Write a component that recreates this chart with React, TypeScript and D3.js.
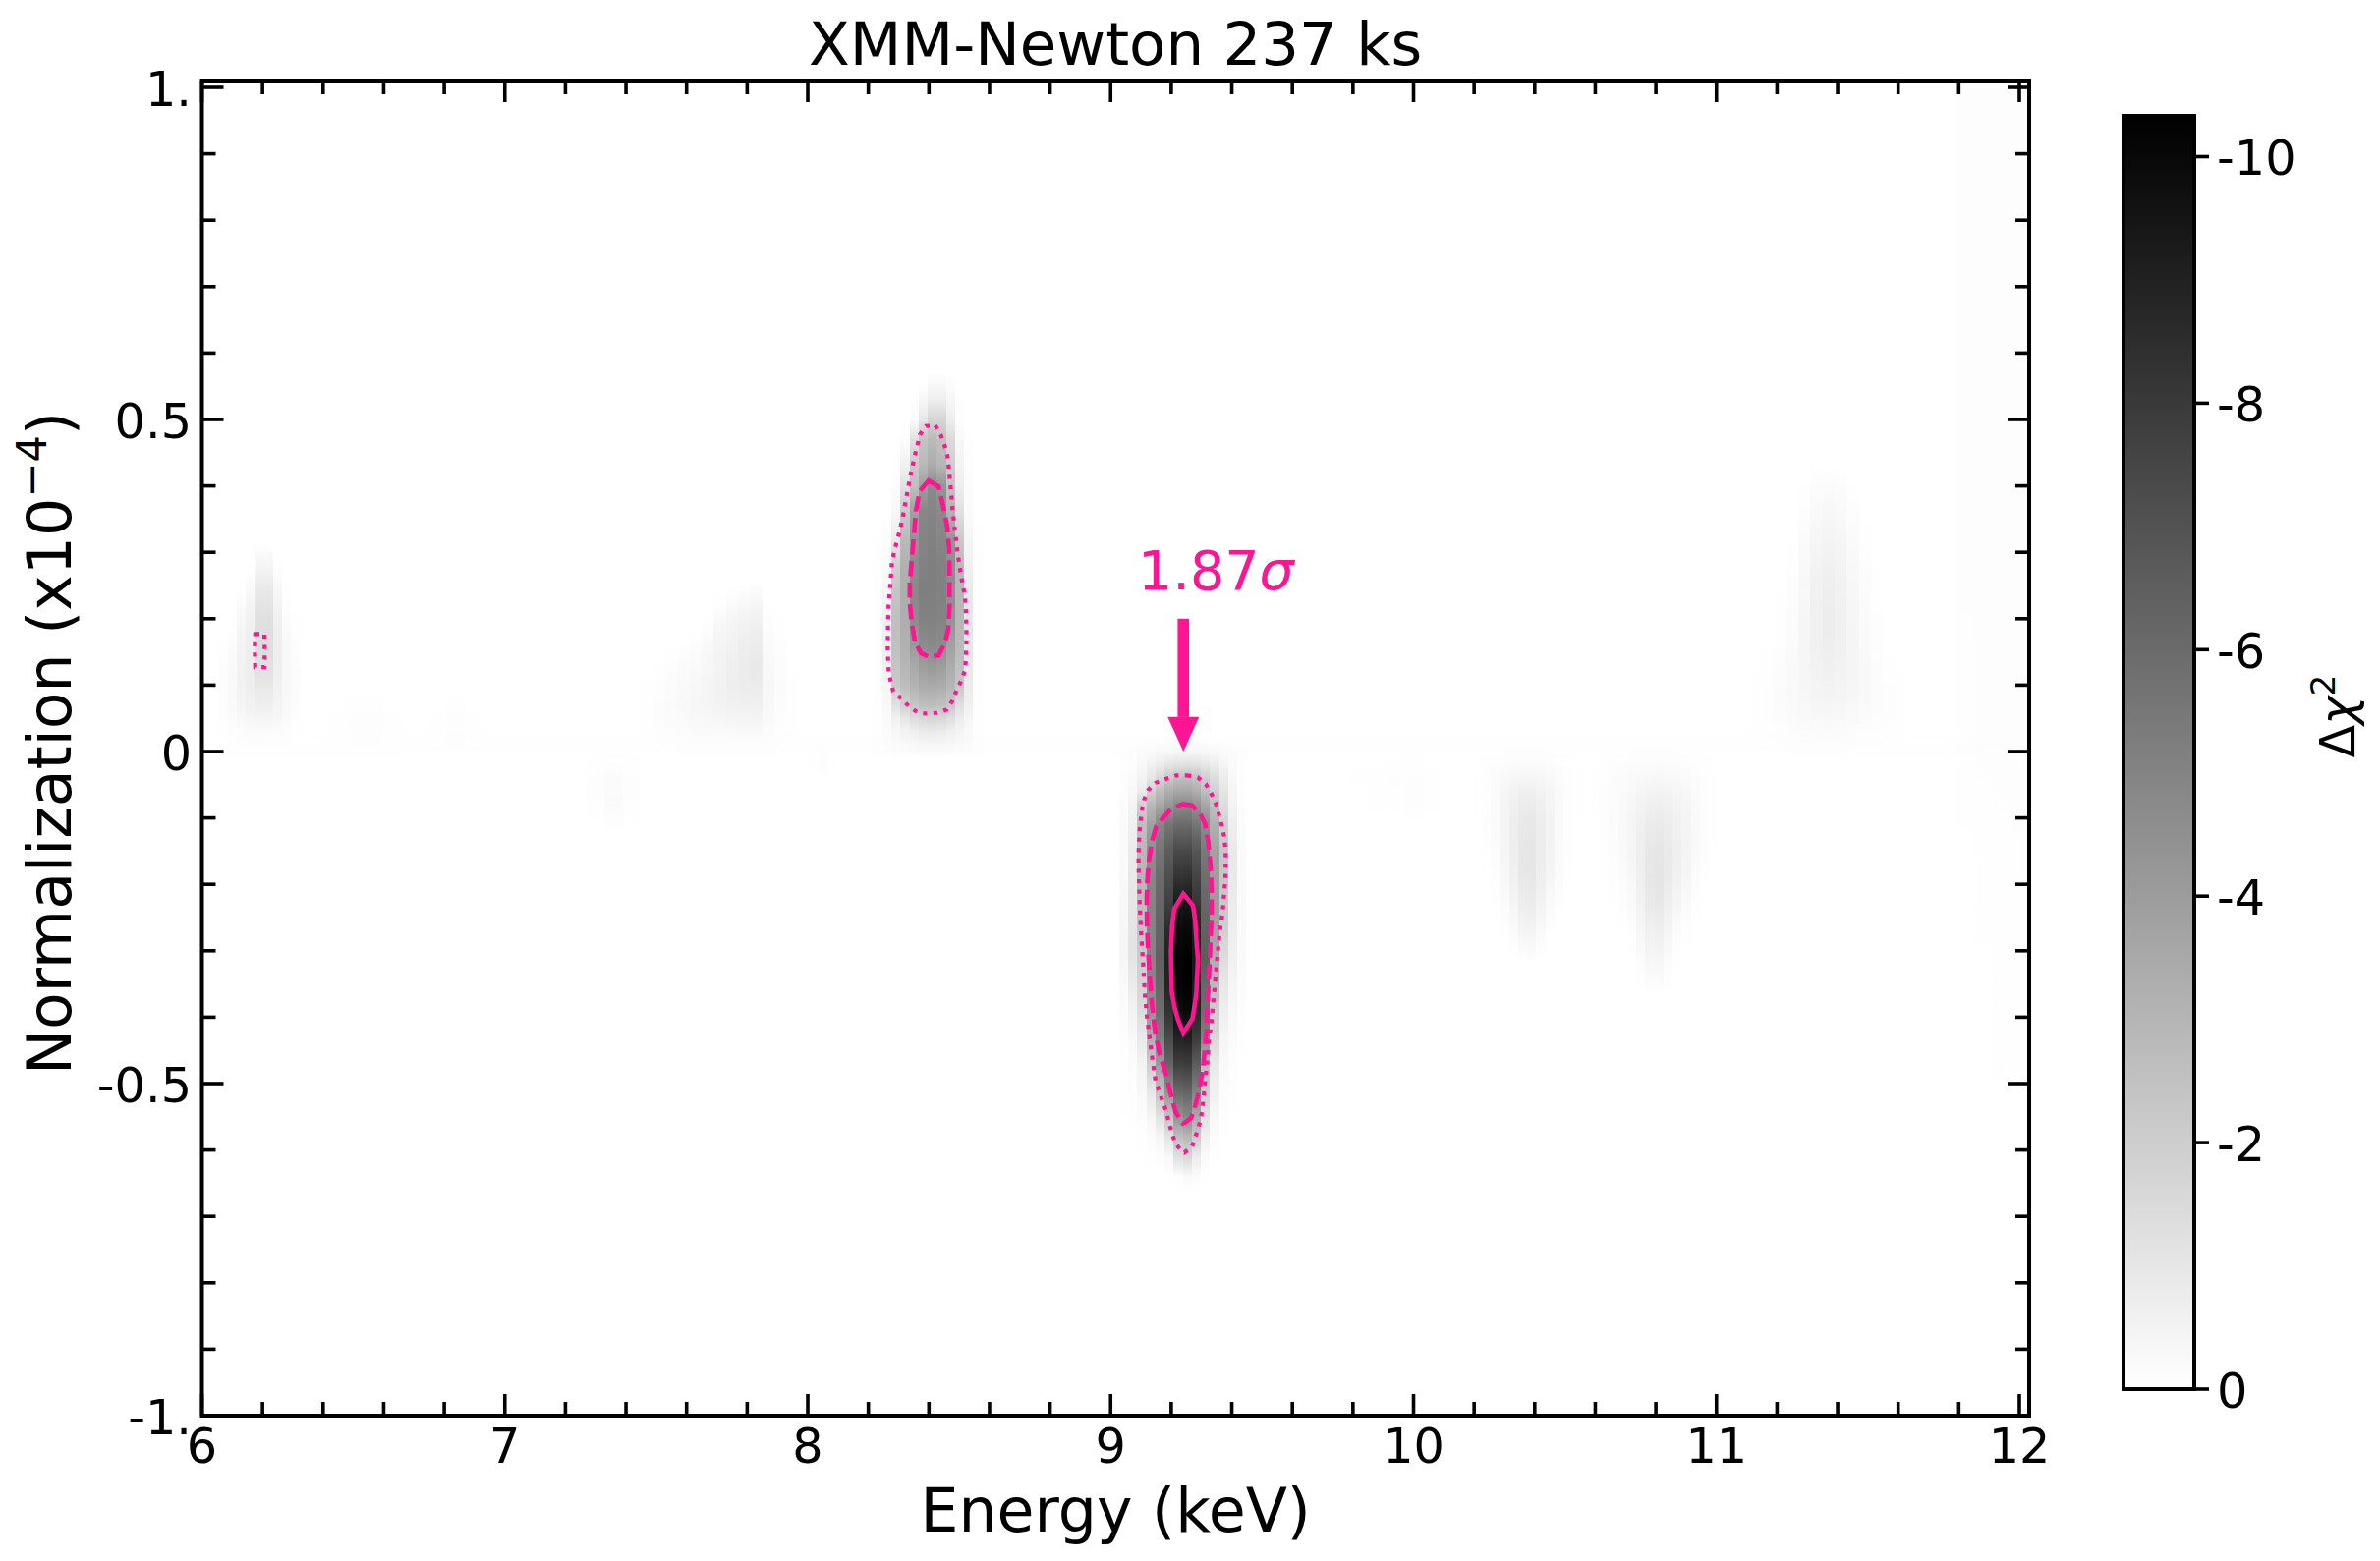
import { useEffect, useRef } from 'react'
import * as d3 from 'd3'

const xMajor = [6, 7, 8, 9, 10, 11, 12]
const yMajor = [-1, -0.5, 0, 0.5, 1]
const yTickLabels = ['-1.', '-0.5', '0', '0.5', '1.']
const cbarTicks = [0, -2, -4, -6, -8, -10]

// Delta chi^2, grid[row][column]
const mainE = [9.043, 9.073, 9.103, 9.133, 9.163, 9.193, 9.223, 9.253, 9.283, 9.313, 9.343, 9.373, 9.403, 9.433]
const mainN = [0.02, 0, -0.02, -0.04, -0.06, -0.08, -0.11, -0.15, -0.19, -0.23, -0.27, -0.31, -0.35, -0.39, -0.43, -0.47, -0.51, -0.55, -0.58, -0.61, -0.64, -0.67]
const mainGrid = [
  [0, 0, 0, 0, 0, -0.05, -0.05, -0.05, -0.05, 0, 0, 0, 0, 0],
  [-0.02, -0.05, -0.1, -0.15, -0.2, -0.25, -0.3, -0.3, -0.3, -0.25, -0.2, -0.12, -0.08, -0.03],
  [-0.05, -0.1, -0.3, -0.55, -0.8, -1.05, -1.2, -1.25, -1.2, -1.0, -0.75, -0.45, -0.2, -0.05],
  [-0.08, -0.2, -0.5, -1.0, -1.6, -2.2, -2.6, -2.65, -2.45, -2.0, -1.4, -0.8, -0.3, -0.08],
  [-0.1, -0.3, -0.8, -1.9, -2.7, -3.3, -3.6, -3.6, -3.3, -2.65, -1.95, -1.1, -0.4, -0.1],
  [-0.15, -0.45, -1.9, -2.9, -3.5, -4.2, -4.7, -4.75, -4.4, -3.6, -2.6, -1.4, -0.5, -0.1],
  [-0.2, -0.6, -2.6, -3.8, -4.9, -5.6, -6.0, -6.0, -5.6, -4.7, -3.2, -1.9, -0.7, -0.15],
  [-0.2, -0.8, -2.9, -4.6, -5.6, -6.6, -7.4, -7.4, -6.9, -5.4, -3.8, -2.3, -0.9, -0.2],
  [-0.25, -0.9, -3.0, -4.9, -6.0, -7.2, -8.3, -8.4, -7.6, -5.9, -4.0, -2.3, -0.9, -0.2],
  [-0.3, -1.0, -2.6, -5.0, -6.2, -7.8, -9.4, -9.5, -8.2, -6.2, -4.0, -2.2, -0.8, -0.2],
  [-0.35, -1.1, -2.4, -5.0, -6.3, -8.6, -9.9, -10.0, -9.2, -6.4, -3.8, -1.9, -0.7, -0.2],
  [-0.35, -1.1, -2.1, -5.0, -6.4, -9.0, -10.2, -10.3, -9.4, -6.6, -3.3, -1.4, -0.6, -0.2],
  [-0.25, -0.8, -1.7, -4.9, -6.2, -8.9, -10.2, -10.3, -9.3, -6.2, -2.8, -1.0, -0.4, -0.15],
  [-0.15, -0.5, -1.4, -4.4, -5.9, -8.3, -9.8, -10.0, -8.8, -5.9, -2.0, -0.7, -0.3, -0.1],
  [-0.1, -0.3, -0.9, -3.3, -5.3, -7.4, -9.0, -9.1, -8.0, -5.1, -1.6, -0.4, -0.2, -0.05],
  [-0.05, -0.15, -0.5, -2.0, -4.0, -6.3, -7.8, -7.9, -6.6, -2.7, -0.9, -0.25, -0.1, -0.02],
  [-0.03, -0.1, -0.3, -1.0, -2.6, -4.5, -6.2, -6.4, -5.2, -2.1, -0.6, -0.15, -0.05, 0],
  [-0.02, -0.05, -0.12, -0.4, -1.2, -2.4, -4.4, -4.8, -3.4, -1.2, -0.3, -0.08, -0.02, 0],
  [0, -0.02, -0.05, -0.15, -0.4, -1.1, -2.6, -2.9, -2.1, -0.6, -0.15, -0.03, 0, 0],
  [0, 0, -0.02, -0.05, -0.1, -0.3, -1.3, -1.6, -0.8, -0.2, -0.05, 0, 0, 0],
  [0, 0, 0, 0, -0.02, -0.05, -0.1, -0.25, -0.15, -0.05, 0, 0, 0, 0],
  [0, 0, 0, 0, 0, 0, 0, 0, 0, 0, 0, 0, 0, 0],
]

const upperE = [8.231, 8.261, 8.291, 8.321, 8.351, 8.381, 8.411, 8.441, 8.471, 8.501, 8.531, 8.561]
const upperN = [0.57, 0.55, 0.53, 0.5, 0.47, 0.43, 0.4, 0.36, 0.32, 0.28, 0.24, 0.2, 0.16, 0.13, 0.1, 0.07, 0.05, 0.03, 0.01, -0.01]
const upperGrid = [
  [0, 0, 0, 0, 0, 0, -0.05, -0.05, -0.02, 0, 0, 0],
  [0, 0, 0, 0, 0, -0.05, -0.3, -0.3, -0.15, 0, 0, 0],
  [0, 0, 0, 0, -0.05, -0.3, -0.7, -0.7, -0.35, -0.05, 0, 0],
  [0, 0, 0, -0.02, -0.15, -1.0, -1.7, -1.7, -0.7, -0.1, 0, 0],
  [0, 0, 0, -0.1, -1.2, -2.4, -2.8, -2.5, -1.5, -0.3, -0.05, 0],
  [0, 0, -0.05, -0.6, -2.2, -2.9, -3.4, -3.0, -2.0, -0.5, -0.1, 0],
  [0, 0, -0.1, -1.2, -2.6, -3.9, -4.7, -4.3, -2.4, -0.7, -0.15, 0],
  [0, -0.02, -0.3, -2.2, -3.9, -4.9, -5.0, -4.8, -3.1, -1.3, -0.2, -0.02],
  [-0.02, -0.1, -0.8, -2.8, -4.4, -5.0, -5.1, -4.9, -4.3, -2.2, -0.4, -0.05],
  [-0.05, -0.2, -1.9, -3.2, -4.7, -5.1, -5.2, -5.1, -4.6, -2.8, -0.6, -0.08],
  [-0.08, -0.4, -2.4, -3.3, -4.8, -5.2, -5.2, -5.1, -4.6, -2.9, -0.9, -0.1],
  [-0.1, -0.6, -2.6, -3.3, -4.7, -5.1, -5.1, -5.0, -4.4, -2.9, -1.0, -0.1],
  [-0.1, -0.7, -2.6, -3.2, -4.1, -4.7, -4.8, -4.7, -3.8, -2.8, -1.0, -0.1],
  [-0.1, -0.6, -2.4, -3.0, -3.5, -4.0, -4.2, -4.0, -3.4, -2.6, -0.9, -0.1],
  [-0.08, -0.4, -2.2, -2.7, -3.1, -3.4, -3.5, -3.4, -3.0, -2.3, -0.8, -0.1],
  [-0.06, -0.3, -1.2, -1.9, -2.4, -2.6, -2.7, -2.6, -2.3, -1.3, -0.6, -0.08],
  [-0.05, -0.2, -0.6, -1.0, -1.4, -1.6, -1.7, -1.6, -1.3, -0.8, -0.4, -0.05],
  [-0.04, -0.15, -0.3, -0.5, -0.65, -0.8, -0.85, -0.8, -0.65, -0.45, -0.25, -0.04],
  [-0.03, -0.08, -0.15, -0.2, -0.25, -0.3, -0.3, -0.3, -0.25, -0.2, -0.1, -0.03],
  [0, 0, 0, 0, 0, 0, 0, 0, 0, 0, 0, 0],
]

const leftE = [6.07, 6.1, 6.13, 6.16, 6.19, 6.22, 6.25, 6.28, 6.31]
const leftN = [0.31, 0.29, 0.27, 0.24, 0.21, 0.18, 0.15, 0.12, 0.09, 0.06, 0.04, 0.02, 0]
const leftGrid = [
  [0, 0, 0, 0, -0.05, -0.05, 0, 0, 0],
  [0, 0, 0, 0, -0.3, -0.3, -0.05, 0, 0],
  [0, 0, 0, -0.05, -0.55, -0.55, -0.1, 0, 0],
  [0, 0, -0.05, -0.3, -0.95, -0.95, -0.35, -0.05, 0],
  [0, -0.02, -0.25, -0.5, -1.2, -1.2, -0.55, -0.1, -0.02],
  [0, -0.05, -0.4, -0.65, -1.35, -1.35, -0.7, -0.2, -0.05],
  [-0.05, -0.2, -0.5, -0.7, -1.35, -1.35, -0.7, -0.3, -0.1],
  [-0.1, -0.25, -0.55, -0.7, -1.15, -1.15, -0.65, -0.3, -0.15],
  [-0.1, -0.25, -0.5, -0.65, -0.85, -0.85, -0.55, -0.3, -0.15],
  [-0.1, -0.2, -0.4, -0.5, -0.55, -0.55, -0.4, -0.25, -0.1],
  [-0.05, -0.12, -0.2, -0.25, -0.3, -0.3, -0.25, -0.15, -0.05],
  [-0.02, -0.05, -0.08, -0.1, -0.1, -0.1, -0.08, -0.05, -0.02],
  [0, 0, 0, 0, 0, 0, 0, 0, 0],
]

const wedgeE = [7.47, 7.51, 7.55, 7.59, 7.63, 7.67, 7.71, 7.75, 7.79, 7.83, 7.87, 7.91, 7.95]
const wedgeN = [0.25, 0.22, 0.19, 0.16, 0.13, 0.1, 0.07, 0.04, 0.02, 0]
const wedgeGrid = [
  [0, 0, 0, 0, 0, 0, 0, 0, -0.05, -0.1, 0, 0, 0],
  [0, 0, 0, 0, 0, 0, -0.05, -0.2, -0.3, -0.4, -0.03, 0, 0],
  [0, 0, 0, 0, 0, -0.05, -0.35, -0.45, -0.55, -0.65, -0.1, -0.03, 0],
  [0, 0, 0, -0.03, -0.1, -0.25, -0.45, -0.55, -0.7, -0.8, -0.2, -0.08, 0],
  [0, -0.03, -0.08, -0.15, -0.22, -0.35, -0.5, -0.65, -0.8, -0.9, -0.28, -0.12, -0.02],
  [-0.03, -0.08, -0.15, -0.25, -0.32, -0.42, -0.55, -0.7, -0.75, -0.8, -0.32, -0.15, -0.05],
  [-0.06, -0.12, -0.2, -0.28, -0.35, -0.42, -0.5, -0.6, -0.62, -0.65, -0.28, -0.12, -0.05],
  [-0.06, -0.1, -0.15, -0.2, -0.25, -0.28, -0.3, -0.33, -0.35, -0.35, -0.2, -0.08, -0.05],
  [-0.02, -0.04, -0.06, -0.08, -0.09, -0.1, -0.1, -0.11, -0.12, -0.12, -0.08, -0.04, -0.02],
  [0, 0, 0, 0, 0, 0, 0, 0, 0, 0, 0, 0, 0],
]

const rightE = [11.13, 11.17, 11.21, 11.25, 11.29, 11.33, 11.37, 11.41, 11.45, 11.49, 11.53, 11.57, 11.61]
const rightN = [0.43, 0.4, 0.36, 0.32, 0.28, 0.24, 0.2, 0.16, 0.12, 0.08, 0.05, 0.02, 0]
const rightGrid = [
  [0, 0, 0, 0, 0, -0.02, -0.03, -0.02, 0, 0, 0, 0, 0],
  [0, 0, 0, 0, -0.02, -0.12, -0.15, -0.12, -0.02, 0, 0, 0, 0],
  [0, 0, 0, 0, -0.08, -0.25, -0.32, -0.25, -0.1, -0.02, 0, 0, 0],
  [0, 0, 0, -0.02, -0.18, -0.38, -0.45, -0.38, -0.2, -0.05, 0, 0, 0],
  [0, 0, 0, -0.05, -0.25, -0.5, -0.6, -0.5, -0.28, -0.1, -0.02, 0, 0],
  [0, 0, -0.02, -0.1, -0.3, -0.58, -0.7, -0.58, -0.33, -0.14, -0.04, 0, 0],
  [0, 0, -0.03, -0.14, -0.35, -0.62, -0.75, -0.62, -0.38, -0.18, -0.07, 0, 0],
  [0, -0.02, -0.07, -0.18, -0.38, -0.6, -0.7, -0.6, -0.4, -0.22, -0.1, -0.02, 0],
  [-0.02, -0.06, -0.12, -0.24, -0.38, -0.52, -0.6, -0.52, -0.4, -0.25, -0.12, -0.05, -0.02],
  [-0.05, -0.1, -0.16, -0.26, -0.34, -0.42, -0.45, -0.42, -0.34, -0.25, -0.14, -0.08, -0.04],
  [-0.05, -0.08, -0.12, -0.18, -0.23, -0.28, -0.3, -0.28, -0.22, -0.17, -0.1, -0.07, -0.05],
  [-0.02, -0.03, -0.05, -0.07, -0.09, -0.1, -0.1, -0.1, -0.09, -0.07, -0.05, -0.03, -0.02],
  [0, 0, 0, 0, 0, 0, 0, 0, 0, 0, 0, 0, 0],
]

const dipAE = [10.21, 10.24, 10.27, 10.3, 10.33, 10.36, 10.39, 10.42, 10.45, 10.48, 10.51, 10.54]
const dipAN = [0, -0.03, -0.06, -0.1, -0.14, -0.18, -0.22, -0.26, -0.29, -0.32]
const dipAGrid = [
  [0, 0, 0, 0, 0, 0, 0, 0, 0, 0, 0, 0],
  [-0.03, -0.08, -0.14, -0.2, -0.25, -0.28, -0.28, -0.25, -0.2, -0.14, -0.08, -0.03],
  [-0.03, -0.1, -0.2, -0.38, -0.52, -0.65, -0.65, -0.52, -0.38, -0.2, -0.1, -0.03],
  [-0.02, -0.08, -0.18, -0.42, -0.68, -0.88, -0.92, -0.72, -0.48, -0.22, -0.1, -0.02],
  [0, -0.05, -0.15, -0.38, -0.68, -0.98, -1.02, -0.76, -0.48, -0.22, -0.07, 0],
  [0, -0.02, -0.1, -0.32, -0.62, -0.98, -1.02, -0.72, -0.42, -0.18, -0.05, 0],
  [0, 0, -0.05, -0.2, -0.48, -0.8, -0.85, -0.56, -0.26, -0.08, 0, 0],
  [0, 0, 0, -0.08, -0.26, -0.5, -0.55, -0.3, -0.1, 0, 0, 0],
  [0, 0, 0, 0, -0.08, -0.25, -0.3, -0.12, 0, 0, 0, 0],
  [0, 0, 0, 0, 0, 0, 0, 0, 0, 0, 0, 0],
]

const dipBE = [10.6, 10.63, 10.66, 10.69, 10.72, 10.75, 10.78, 10.81, 10.84, 10.87, 10.9, 10.93, 10.96, 10.99]
const dipBN = [0, -0.03, -0.07, -0.11, -0.15, -0.19, -0.23, -0.27, -0.31, -0.34, -0.37]
const dipBGrid = [
  [0, 0, 0, 0, 0, 0, 0, 0, 0, 0, 0, 0, 0, 0],
  [-0.03, -0.06, -0.1, -0.14, -0.18, -0.2, -0.22, -0.24, -0.22, -0.2, -0.15, -0.1, -0.06, -0.03],
  [-0.03, -0.08, -0.14, -0.22, -0.32, -0.45, -0.55, -0.6, -0.55, -0.45, -0.35, -0.2, -0.1, -0.03],
  [-0.02, -0.08, -0.15, -0.25, -0.42, -0.62, -0.8, -0.85, -0.75, -0.6, -0.45, -0.27, -0.1, -0.03],
  [0, -0.05, -0.12, -0.22, -0.42, -0.68, -0.95, -1.02, -0.85, -0.65, -0.45, -0.25, -0.08, -0.02],
  [0, -0.02, -0.08, -0.15, -0.32, -0.62, -1.0, -1.08, -0.85, -0.6, -0.38, -0.15, -0.04, 0],
  [0, 0, -0.03, -0.08, -0.22, -0.52, -0.85, -0.95, -0.65, -0.4, -0.18, -0.05, 0, 0],
  [0, 0, 0, -0.02, -0.08, -0.36, -0.62, -0.68, -0.42, -0.18, -0.05, 0, 0, 0],
  [0, 0, 0, 0, -0.02, -0.18, -0.38, -0.4, -0.2, -0.05, 0, 0, 0, 0],
  [0, 0, 0, 0, 0, -0.05, -0.18, -0.2, -0.06, 0, 0, 0, 0, 0],
  [0, 0, 0, 0, 0, 0, 0, 0, 0, 0, 0, 0, 0, 0],
]

// the very faint patches
const patches = [
  { e: [7.3, 7.36, 7.42], n: [0, -0.04, -0.08, -0.12], v: [[0, 0, 0], [-0.08, -0.16, -0.08], [-0.06, -0.2, -0.06], [0, -0.05, 0]] },
  { e: [6.45, 6.51, 6.57, 6.63], n: [0.08, 0.05, 0.02, 0], v: [[0, -0.03, -0.03, 0], [-0.03, -0.08, -0.08, -0.03], [-0.03, -0.06, -0.06, -0.03], [0, 0, 0, 0]] },
  { e: [6.78, 6.84, 6.9], n: [0.08, 0.05, 0.02, 0], v: [[0, -0.04, 0], [-0.03, -0.08, -0.03], [-0.03, -0.06, -0.03], [0, 0, 0]] },
  { e: [9.82, 9.88, 9.94, 10, 10.06], n: [0, -0.04, -0.08, -0.11], v: [[0, 0, 0, 0, 0], [-0.03, -0.05, -0.07, -0.08, -0.05], [0, -0.03, -0.05, -0.08, -0.03], [0, 0, 0, 0, 0]] },
  { e: [8.02, 8.05, 8.08], n: [0, -0.02, -0.05], v: [[0, 0, 0], [-0.05, -0.12, -0.05], [0, 0, 0]] },
  { e: [11.82, 11.88, 11.94, 12.0], n: [1.01, 0.3, 0, -0.2, -0.5], v: [[-0.07, -0.07, -0.07, -0.07], [-0.07, -0.07, -0.07, -0.07], [-0.05, -0.07, -0.07, -0.07], [0, -0.03, -0.05, -0.06], [0, 0, -0.02, -0.04]] },
  { e: [6.3, 7, 8, 9, 10, 11, 11.9], n: [0.04, 0.015, 0, -0.015], v: [[0, 0, 0, 0, 0, 0, 0], [-0.03, -0.05, -0.05, -0.05, -0.05, -0.05, -0.03], [-0.05, -0.07, -0.07, -0.07, -0.07, -0.07, -0.05], [0, 0, 0, 0, 0, 0, 0]] },
]

// confidence contours, [energy, normalization]
const mainDotted: [number, number][] = [
  [9.253, -0.036], [9.288, -0.039], [9.314, -0.049], [9.332, -0.063], [9.347, -0.078], [9.357, -0.094], [9.366, -0.11], [9.374, -0.126], [9.378, -0.142], [9.38, -0.158],
  [9.379, -0.191], [9.376, -0.207], [9.37, -0.24], [9.36, -0.272], [9.353, -0.305], [9.347, -0.337], [9.34, -0.37], [9.334, -0.402], [9.325, -0.435], [9.319, -0.467],
  [9.311, -0.5], [9.304, -0.533], [9.299, -0.549], [9.291, -0.565], [9.28, -0.58], [9.269, -0.595], [9.243, -0.604], [9.234, -0.602], [9.213, -0.589], [9.202, -0.574],
  [9.192, -0.558], [9.184, -0.542], [9.172, -0.527], [9.16, -0.512], [9.148, -0.496], [9.138, -0.464], [9.129, -0.432], [9.12, -0.399], [9.113, -0.366], [9.107, -0.318],
  [9.1, -0.269], [9.095, -0.219], [9.092, -0.17], [9.092, -0.154], [9.095, -0.122], [9.103, -0.089], [9.11, -0.073], [9.124, -0.058], [9.149, -0.047], [9.184, -0.041], [9.216, -0.036],
]
const mainDashed: [number, number][] = [
  [9.238, -0.079], [9.268, -0.081], [9.297, -0.095], [9.311, -0.108], [9.322, -0.136], [9.326, -0.155], [9.331, -0.18], [9.333, -0.214], [9.333, -0.249], [9.33, -0.281],
  [9.327, -0.313], [9.324, -0.343], [9.319, -0.382], [9.316, -0.417], [9.311, -0.446], [9.305, -0.476], [9.292, -0.51], [9.277, -0.537], [9.265, -0.552], [9.244, -0.559],
  [9.238, -0.56], [9.214, -0.542], [9.198, -0.515], [9.184, -0.488], [9.164, -0.459], [9.148, -0.426], [9.14, -0.397], [9.134, -0.367], [9.127, -0.323], [9.123, -0.293],
  [9.12, -0.261], [9.119, -0.224], [9.121, -0.195], [9.126, -0.165], [9.136, -0.136], [9.151, -0.112], [9.2, -0.086],
]
const mainSolid: [number, number][] = [
  [9.24, -0.214], [9.272, -0.232], [9.279, -0.254], [9.283, -0.284], [9.288, -0.313], [9.283, -0.362], [9.279, -0.377], [9.27, -0.402], [9.24, -0.424], [9.221, -0.402], [9.211, -0.385], [9.202, -0.362], [9.199, -0.303], [9.203, -0.263], [9.21, -0.237],
]
const upperDotted: [number, number][] = [
  [8.421, 0.491], [8.439, 0.477], [8.451, 0.462], [8.461, 0.446], [8.465, 0.43], [8.472, 0.397], [8.478, 0.365], [8.486, 0.333], [8.494, 0.301], [8.511, 0.251], [8.519, 0.236],
  [8.523, 0.203], [8.524, 0.17], [8.522, 0.138], [8.519, 0.122], [8.506, 0.106], [8.491, 0.092], [8.477, 0.076], [8.459, 0.063], [8.425, 0.058], [8.389, 0.057], [8.362, 0.059],
  [8.334, 0.068], [8.308, 0.08], [8.282, 0.091], [8.273, 0.107], [8.267, 0.123], [8.264, 0.155], [8.265, 0.187], [8.267, 0.22], [8.273, 0.253], [8.278, 0.286], [8.286, 0.302],
  [8.295, 0.318], [8.304, 0.333], [8.312, 0.349], [8.325, 0.381], [8.338, 0.413], [8.353, 0.445], [8.362, 0.461], [8.37, 0.477], [8.39, 0.49],
]
const upperDashed: [number, number][] = [
  [8.399, 0.408], [8.432, 0.399], [8.448, 0.367], [8.461, 0.338], [8.467, 0.303], [8.468, 0.264], [8.468, 0.219], [8.464, 0.185], [8.454, 0.165], [8.432, 0.145],
  [8.403, 0.142], [8.374, 0.148], [8.354, 0.165], [8.343, 0.195], [8.337, 0.224], [8.337, 0.254], [8.344, 0.293], [8.351, 0.328], [8.357, 0.362], [8.369, 0.392],
]
const leftDotted: [number, number][] = [
  [6.176, 0.177], [6.206, 0.178], [6.207, 0.161], [6.207, 0.145], [6.206, 0.127], [6.176, 0.127], [6.175, 0.145], [6.175, 0.161],
]

const PINK = '#ff1493'
const FONT = '"DejaVu Sans", sans-serif'
const TICK_FS = 49.3
const LABEL_FS = 61.7

export default function App() {
  const ref = useRef<SVGSVGElement>(null)

  useEffect(() => {
    if (!ref.current) return
    const svg = d3.select(ref.current)
    svg.selectAll('*').remove()

    const left = 205.5, right = 2065, top = 82, bottom = 1441
    const x = d3.scaleLinear().domain([6, 12]).range([left, 2055])
    const y = d3.scaleLinear().domain([-1, 1]).range([bottom, 89])
    const shade = d3.scaleLinear().domain([-10.35, 0]).range([1, 0]).clamp(true)

    const defs = svg.append('defs')
    const plot = svg.append('g')

    // heatmap: one rect per energy column with a vertical gradient through its read values
    const layers = [
      { e: mainE, n: mainN, v: mainGrid },
      { e: upperE, n: upperN, v: upperGrid },
      { e: leftE, n: leftN, v: leftGrid },
      { e: wedgeE, n: wedgeN, v: wedgeGrid },
      { e: rightE, n: rightN, v: rightGrid },
      { e: dipAE, n: dipAN, v: dipAGrid },
      { e: dipBE, n: dipBN, v: dipBGrid },
      ...patches,
    ]
    layers.forEach((layer, li) => {
      const y0 = y(layer.n[0])
      const y1 = y(layer.n[layer.n.length - 1])
      layer.e.forEach((en, ci) => {
        const prev = ci > 0 ? layer.e[ci - 1] : en - (layer.e[1] - layer.e[0])
        const next = ci < layer.e.length - 1 ? layer.e[ci + 1] : en + (en - layer.e[ci - 1])
        const id = `col-${li}-${ci}`
        const grad = defs.append('linearGradient').attr('id', id)
          .attr('x1', 0).attr('x2', 0).attr('y1', 0).attr('y2', 1)
        layer.n.forEach((nv, ri) => {
          grad.append('stop')
            .attr('offset', (y(nv) - y0) / (y1 - y0))
            .attr('stop-color', '#000')
            .attr('stop-opacity', shade(layer.v[ri][ci]))
        })
        const xa = Math.round(x((prev + en) / 2))
        const xb = Math.min(Math.round(x((next + en) / 2)), right)
        plot.append('rect')
          .attr('x', xa).attr('y', y0)
          .attr('width', xb - xa).attr('height', y1 - y0)
          .attr('fill', `url(#${id})`)
          .attr('shape-rendering', 'crispEdges')
      })
    })

    // contours
    const line = d3.line<[number, number]>().x(d => x(d[0])).y(d => y(d[1])).curve(d3.curveLinearClosed)
    const contours = [
      { pts: mainDotted, dash: '4.2 6.4', w: 4.2 },
      { pts: upperDotted, dash: '4.2 6.4', w: 4.2 },
      { pts: leftDotted, dash: '4.2 6.4', w: 4.2 },
      { pts: mainDashed, dash: '15.5 6.5', w: 4.6 },
      { pts: upperDashed, dash: '15.5 6.5', w: 4.6 },
      { pts: mainSolid, dash: null, w: 4.6 },
    ]
    contours.forEach(c => {
      plot.append('path')
        .attr('d', line(c.pts))
        .attr('fill', 'none')
        .attr('stroke', PINK)
        .attr('stroke-width', c.w)
        .attr('stroke-dasharray', c.dash)
    })

    // arrow and annotation
    const arrowX = x(9.24)
    plot.append('rect')
      .attr('x', arrowX - 5.8).attr('width', 11.6)
      .attr('y', y(0.2)).attr('height', y(0.052) - y(0.2))
      .attr('fill', PINK)
    plot.append('path')
      .attr('d', `M${arrowX - 16},${y(0.052)}L${arrowX + 16},${y(0.052)}L${arrowX},${y(0)}Z`)
      .attr('fill', PINK)
    const note = plot.append('text')
      .attr('x', 1158).attr('y', 600)
      .attr('font-family', FONT).attr('font-size', 55.5).attr('fill', PINK)
    note.append('tspan').text('1.87')
    note.append('tspan').attr('font-style', 'italic').text('σ')

    // frame with inward ticks on all four sides
    const xMinor = d3.range(6, 12.01, 0.2).filter(d => Math.abs(d - Math.round(d)) > 0.01)
    const yMinor = d3.range(-1, 1.01, 0.1).filter(d => Math.abs(d * 2 - Math.round(d * 2)) > 0.01)
    const tick = (g: any, x1: number, y1: number, x2: number, y2: number) =>
      g.append('line').attr('x1', x1).attr('y1', y1).attr('x2', x2).attr('y2', y2)
        .attr('stroke', '#000').attr('stroke-width', 3.6)
    const axes = svg.append('g')
    const MAJ = 22, MIN = 14
    xMajor.forEach(d => {
      tick(axes, x(d), bottom, x(d), bottom - MAJ)
      tick(axes, x(d), top, x(d), top + MAJ)
    })
    xMinor.forEach(d => {
      tick(axes, x(d), bottom, x(d), bottom - MIN)
      tick(axes, x(d), top, x(d), top + MIN)
    })
    yMajor.forEach(d => {
      tick(axes, left, y(d), left + MAJ, y(d))
      tick(axes, right, y(d), right - MAJ, y(d))
    })
    yMinor.forEach(d => {
      tick(axes, left, y(d), left + MIN, y(d))
      tick(axes, right, y(d), right - MIN, y(d))
    })
    axes.append('rect')
      .attr('x', left).attr('y', top)
      .attr('width', right - left).attr('height', bottom - top)
      .attr('fill', 'none').attr('stroke', '#000').attr('stroke-width', 4)

    const label = (tx: number, ty: number, s: string, size: number, anchor = 'middle') =>
      svg.append('text').attr('x', tx).attr('y', ty)
        .attr('font-family', FONT).attr('font-size', size).attr('fill', '#000')
        .attr('text-anchor', anchor).text(s)

    xMajor.forEach(d => label(x(d), 1489, String(d), TICK_FS))
    yMajor.forEach((d, i) => label(195, y(d) + 18.5, yTickLabels[i], TICK_FS, 'end'))

    label((left + right) / 2, 66, 'XMM-Newton 237 ks', 61)
    label((left + right) / 2, 1559, 'Energy (keV)', LABEL_FS)

    const yl = svg.append('text')
      .attr('transform', `translate(72,${(top + bottom) / 2 - 5}) rotate(-90)`)
      .attr('text-anchor', 'middle')
      .attr('font-family', FONT).attr('font-size', LABEL_FS).attr('fill', '#000')
    yl.append('tspan').text('Normalization (x10')
    yl.append('tspan').attr('font-size', LABEL_FS * 0.7).attr('dy', -25).text('−4')
    yl.append('tspan').attr('dy', 25).text(')')

    // colour bar
    const cbLeft = 2161, cbRight = 2233, cbTop = 118, cbBottom = 1414
    const c = d3.scaleLinear().domain([0, -10]).range([cbBottom, 159.5])
    const cbGrad = defs.append('linearGradient').attr('id', 'cbar')
      .attr('x1', 0).attr('x2', 0).attr('y1', 1).attr('y2', 0)
    cbGrad.append('stop').attr('offset', 0).attr('stop-color', '#fff')
    cbGrad.append('stop').attr('offset', 1).attr('stop-color', '#000')
    svg.append('rect')
      .attr('x', cbLeft).attr('y', cbTop)
      .attr('width', cbRight - cbLeft).attr('height', cbBottom - cbTop)
      .attr('fill', 'url(#cbar)').attr('stroke', '#000').attr('stroke-width', 4)
    cbarTicks.forEach(d => {
      tick(svg, cbRight, c(d), cbRight + 15, c(d))
      label(2256, c(d) + 18.5, String(d), TICK_FS, 'start')
    })
    const cl = svg.append('text')
      .attr('transform', `translate(2396,729) rotate(-90)`)
      .attr('text-anchor', 'middle')
      .attr('font-family', FONT).attr('font-size', TICK_FS).attr('fill', '#000')
    cl.append('tspan').text('Δ')
    cl.append('tspan').attr('font-style', 'italic').text('χ')
    cl.append('tspan').attr('font-size', TICK_FS * 0.7).attr('dy', -20).text('2')
  }, [])

  return (
    <svg
      ref={ref}
      width={2422}
      height={1589}
      viewBox="0 0 2422 1589"
      style={{ position: 'absolute', left: 0, top: 0, display: 'block', background: '#fff' }}
    />
  )
}
